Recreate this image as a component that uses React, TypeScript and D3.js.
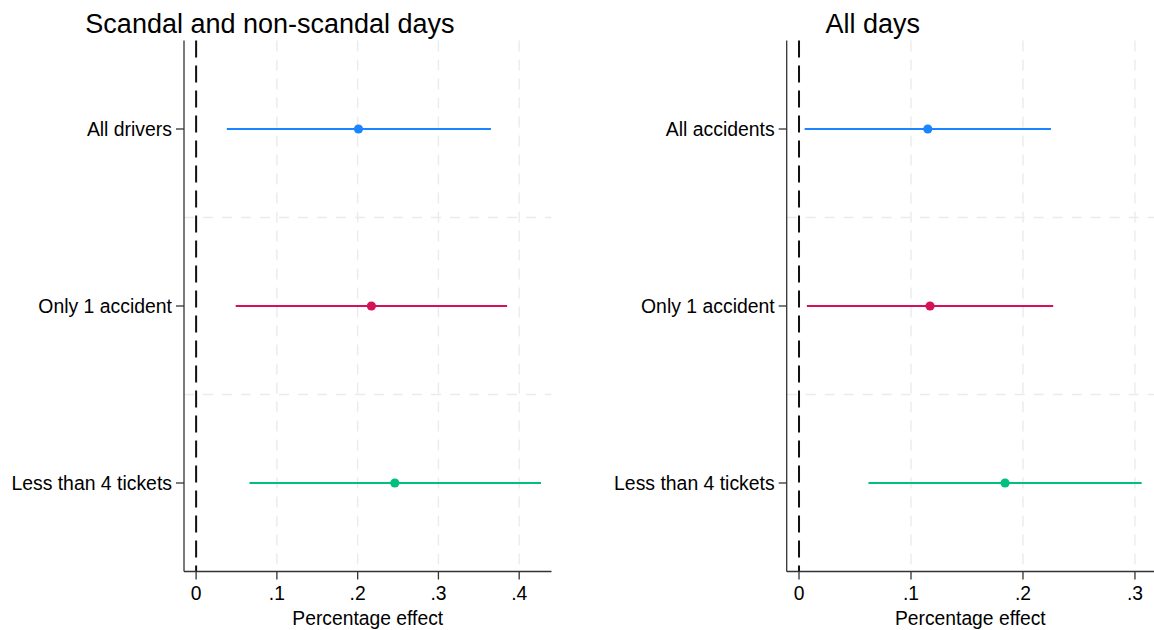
import React from "react";
import * as d3 from "d3";

// Coefficient estimates with 95% confidence intervals
const leftCategories = ["All drivers", "Only 1 accident", "Less than 4 tickets"];
const leftEstimates = [0.201, 0.217, 0.246];
const leftLower = [0.038, 0.049, 0.066];
const leftUpper = [0.365, 0.385, 0.427];
const leftTicks = [0, 0.1, 0.2, 0.3, 0.4];

const rightCategories = ["All accidents", "Only 1 accident", "Less than 4 tickets"];
const rightEstimates = [0.115, 0.117, 0.184];
const rightLower = [0.005, 0.007, 0.062];
const rightUpper = [0.225, 0.227, 0.306];
const rightTicks = [0, 0.1, 0.2, 0.3];

const seriesColors = ["#1a85ff", "#d41159", "#00bf7f"];

const FONT = "'Liberation Sans', Arial, Helvetica, sans-serif";
const W = 1154;
const H = 630;

const fmtTick = (v: number) => (v === 0 ? "0" : d3.format(".1f")(v).replace(/^0/, ""));

type PanelProps = {
  title: string;
  titleX: number;
  categories: string[];
  estimates: number[];
  lower: number[];
  upper: number[];
  ticks: number[];
  xDomain: [number, number];
  xRange: [number, number];
};

function Panel({ title, titleX, categories, estimates, lower, upper, ticks, xDomain, xRange }: PanelProps) {
  const x = d3.scaleLinear().domain(xDomain).range(xRange);
  const y = d3.scaleBand<string>().domain(categories).range([40.5, 571.5]).paddingInner(0).paddingOuter(0);
  const [top, bottom] = y.range();
  const [left, right] = x.range();
  const yc = (c: string) => (y(c) as number) + y.bandwidth() / 2;
  const bandEdges = categories.slice(1).map((c) => y(c) as number);

  return (
    <g>
      <text x={titleX} y={33} textAnchor="middle" fontSize={27} fill="#000" fontFamily={FONT}>
        {title}
      </text>

      {/* grid */}
      {ticks.filter((t) => t !== 0).map((t) => (
        <line key={"gx" + t} x1={x(t)} x2={x(t)} y1={top} y2={bottom} stroke="#ebebeb" strokeWidth={1.4} strokeDasharray="11,8" />
      ))}
      {bandEdges.map((b, i) => (
        <line key={"gy" + i} x1={left} x2={right} y1={b} y2={b} stroke="#ebebeb" strokeWidth={1.4} strokeDasharray="10,9" />
      ))}

      {/* reference line at zero */}
      <line x1={x(0)} x2={x(0)} y1={top} y2={bottom} stroke="#111" strokeWidth={2} strokeDasharray="17,8" />

      {/* axes */}
      <line x1={left} x2={left} y1={top} y2={bottom} stroke="#333" strokeWidth={1.3} />
      <line x1={left} x2={right} y1={bottom} y2={bottom} stroke="#333" strokeWidth={1.3} />

      {ticks.map((t) => (
        <g key={"tx" + t}>
          <line x1={x(t)} x2={x(t)} y1={bottom} y2={bottom + 8} stroke="#333" strokeWidth={1.3} />
          <text x={x(t)} y={600} textAnchor="middle" fontSize={19.3} fill="#000" fontFamily={FONT}>
            {fmtTick(t)}
          </text>
        </g>
      ))}
      <text x={(left + right) / 2} y={624.5} textAnchor="middle" fontSize={19.3} fill="#000" fontFamily={FONT}>
        Percentage effect
      </text>

      {categories.map((c) => (
        <g key={"ty" + c}>
          <line x1={left - 8} x2={left} y1={yc(c)} y2={yc(c)} stroke="#333" strokeWidth={1.3} />
          <text x={left - 12} y={yc(c)} dy="0.35em" textAnchor="end" fontSize={19.4} fill="#000" fontFamily={FONT}>
            {c}
          </text>
        </g>
      ))}

      {/* confidence intervals and point estimates */}
      {categories.map((c, i) => (
        <g key={"m" + c}>
          <line x1={x(lower[i])} x2={x(upper[i])} y1={yc(c)} y2={yc(c)} stroke={seriesColors[i]} strokeWidth={2} />
          <circle cx={x(estimates[i])} cy={yc(c)} r={4.6} fill={seriesColors[i]} />
        </g>
      ))}
    </g>
  );
}

export default function App() {
  return (
    <>
      <style>{`body{margin:0;background:#fff}`}</style>
      <svg width={W} height={H} viewBox={`0 0 ${W} ${H}`} style={{ display: "block", background: "#fff" }}>
        <Panel
          title="Scandal and non-scandal days"
          titleX={270}
          categories={leftCategories}
          estimates={leftEstimates}
          lower={leftLower}
          upper={leftUpper}
          ticks={leftTicks}
          xDomain={[-0.015, 0.44]}
          xRange={[184, 551.5]}
        />
        <Panel
          title="All days"
          titleX={872.7}
          categories={rightCategories}
          estimates={rightEstimates}
          lower={rightLower}
          upper={rightUpper}
          ticks={rightTicks}
          xDomain={[-0.011, 0.317]}
          xRange={[786.7, 1154]}
        />
      </svg>
    </>
  );
}
